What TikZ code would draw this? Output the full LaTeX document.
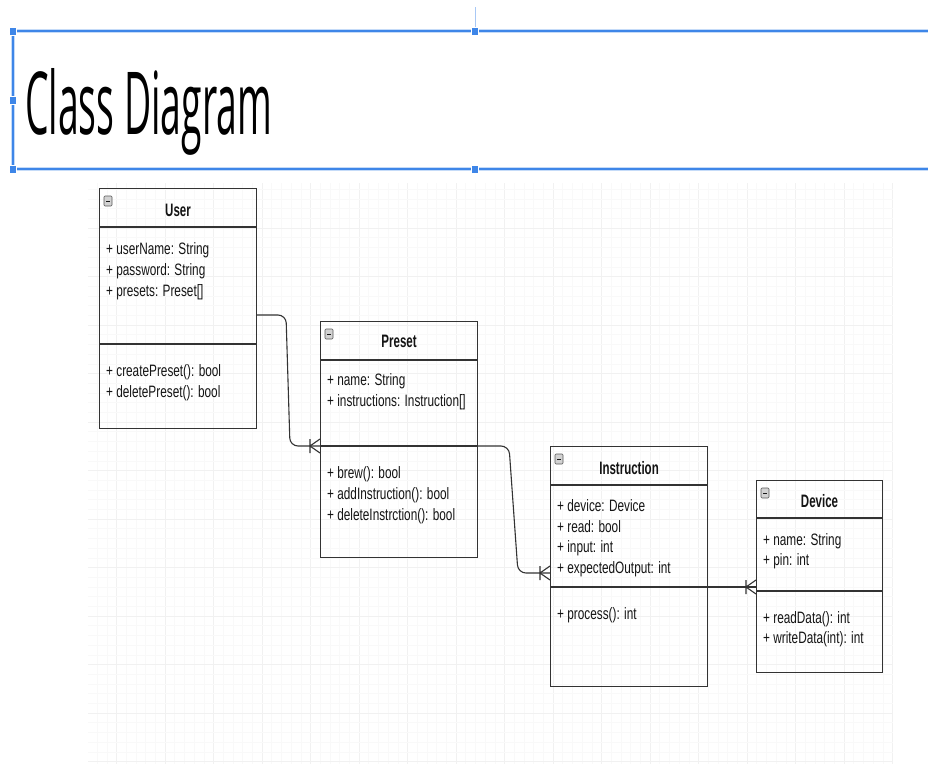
\documentclass[tikz,border=0pt]{standalone}
\usepackage{fontspec}
\usepackage{graphicx}
\setmainfont{Liberation Sans}
\newfontfamily\attrfont[FakeStretch=0.715]{Liberation Sans}
\newfontfamily\headfont[FakeStretch=0.64]{Liberation Sans}
\newfontfamily\titlefont{Open Sans}
\definecolor{selblue}{RGB}{62,134,232}
\definecolor{boxline}{RGB}{51,51,51}
\definecolor{umltext}{RGB}{20,20,20}
\tikzset{
  classbox/.style={draw=boxline, line width=1.1pt, inner sep=0pt, anchor=north west},
  member/.style={anchor=base west, inner sep=0pt, text=umltext, font=\attrfont\fontsize{16.5}{19}\selectfont},
  classname/.style={anchor=base, inner sep=0pt, text=umltext, font=\headfont\bfseries\fontsize{18}{21}\selectfont},
  conn/.style={draw=boxline, line width=1.1pt},
  selline/.style={draw=selblue, line width=1.6pt, preaction={draw=selblue!30, line width=4pt}},
  handle/.style={fill=selblue, draw=white, line width=0.6pt},
  gridminor/.style={draw=gray!5, line width=0.6pt},
  gridmajor/.style={draw=gray!11, line width=0.8pt},
  collapse/.pic={
    \draw[rounded corners=1pt, draw=gray!70!black, fill=gray!35, line width=0.6pt] (0,0) rectangle (8,10);
    \draw[line width=1pt, gray!20!black] (2,5) -- (6,5);
  },
  manyfoot/.pic={
    \draw[conn] (-10,-7) -- (-10,7) (0,-7) -- (-10,0) -- (0,7);
  }
}
\begin{document}
\begin{tikzpicture}[x=1pt, y=-1pt]
  \useasboundingbox (0,0) rectangle (928,764);
  % grid
  \foreach \k in {0,...,82} {
    \pgfmathsetmacro{\gx}{97.1+\k*9.7}
    \pgfmathtruncatemacro{\m}{mod(\k,5)}
    \ifnum\m=2 \draw[gridmajor] (\gx,183) -- (\gx,764); \else \draw[gridminor] (\gx,183) -- (\gx,764); \fi
  }
  \foreach \k in {0,...,59} {
    \pgfmathsetmacro{\gy}{189.2+\k*9.7}
    \pgfmathtruncatemacro{\m}{mod(\k,5)}
    \ifnum\m=4 \draw[gridmajor] (88,\gy) -- (893,\gy); \else \draw[gridminor] (88,\gy) -- (893,\gy); \fi
  }
  % title frame
  \draw[selblue!45, line width=1pt] (475,7) -- (475,31);
  \draw[selline] (928,31) -- (13,31) -- (13,169) -- (928,169);
  \foreach \hx/\hy in {13/31, 13/100, 13/169, 475/31, 475/169}
    \filldraw[handle] (\hx-3.5,\hy-4) rectangle (\hx+3.5,\hy+4);
  \node[anchor=base west, inner sep=0pt] (title) at (25,134) {\resizebox{247pt}{66pt}{\titlefont Class Diagram}};
  % User
  \node[classbox, minimum width=157pt, minimum height=240pt] (user) at (99,188) {};
  \draw[conn] (user.west |- 0,227) -- (user.east |- 0,227);
  \draw[conn] (user.west |- 0,344) -- (user.east |- 0,344);
  \pic at ([shift={(5,8)}]user.north west) {collapse};
  \node[classname] (userTitle) at (user.north |- 0,216) {User};
  \node[member] (userName) at (106,254) {+ userName: String};
  \node[member] (userPassword) at (106,275) {+ password: String};
  \node[member] (userPresets) at (106,296) {+ presets: Preset[]};
  \node[member] (userCreate) at (106,376) {+ createPreset(): bool};
  \node[member] (userDelete) at (106,397) {+ deletePreset(): bool};
  % Preset
  \node[classbox, minimum width=157pt, minimum height=236pt] (preset) at (320,321) {};
  \draw[conn] (preset.west |- 0,360) -- (preset.east |- 0,360);
  \draw[conn] (preset.west |- 0,446) -- (preset.east |- 0,446);
  \pic at ([shift={(5,8)}]preset.north west) {collapse};
  \node[classname] (presetTitle) at (preset.north |- 0,347) {Preset};
  \node[member] (presetName) at (327,385) {+ name: String};
  \node[member] (presetInstr) at (327,406) {+ instructions: Instruction[]};
  \node[member] (presetBrew) at (327,478) {+ brew(): bool};
  \node[member] (presetAdd) at (327,499) {+ addInstruction(): bool};
  \node[member] (presetDel) at (327,520) {+ deleteInstrction(): bool};
  % Instruction
  \node[classbox, minimum width=157pt, minimum height=240pt] (instr) at (550,446) {};
  \draw[conn] (instr.west |- 0,485) -- (instr.east |- 0,485);
  \draw[conn] (instr.west |- 0,587) -- (instr.east |- 0,587);
  \pic at ([shift={(5,8)}]instr.north west) {collapse};
  \node[classname] (instrTitle) at (instr.north |- 0,474) {Instruction};
  \node[member] (instrDevice) at (557,511) {+ device: Device};
  \node[member] (instrRead) at (557,532) {+ read: bool};
  \node[member] (instrInput) at (557,552) {+ input: int};
  \node[member] (instrOutput) at (557,573) {+ expectedOutput: int};
  \node[member] (instrProcess) at (557,619) {+ process(): int};
  % Device
  \node[classbox, minimum width=126pt, minimum height=192pt] (device) at (756,480) {};
  \draw[conn] (device.west |- 0,518) -- (device.east |- 0,518);
  \draw[conn] (device.west |- 0,591) -- (device.east |- 0,591);
  \pic at ([shift={(5,8)}]device.north west) {collapse};
  \node[classname] (deviceTitle) at (device.north |- 0,507) {Device};
  \node[member] (deviceName) at (763,545) {+ name: String};
  \node[member] (devicePin) at (763,565) {+ pin: int};
  \node[member] (deviceRead) at (763,623) {+ readData(): int};
  \node[member] (deviceWrite) at (763,643) {+ writeData(int): int};
  % connectors
  \draw[conn, rounded corners=8pt] (user.east |- 0,315) -- (286,315) -- (290,446) -- (preset.west |- 0,446);
  \pic at (preset.west |- 0,446) {manyfoot};
  \draw[conn, rounded corners=8pt] (preset.east |- 0,446) -- (509,446) -- (518,573) -- (instr.west |- 0,573);
  \pic at (instr.west |- 0,573) {manyfoot};
  \draw[conn] (instr.east |- 0,587) -- (device.west |- 0,587);
  \draw[boxline, line width=2.4pt] (727,587) -- (736,587);
  \pic at (device.west |- 0,587) {manyfoot};
\end{tikzpicture}
\end{document}
